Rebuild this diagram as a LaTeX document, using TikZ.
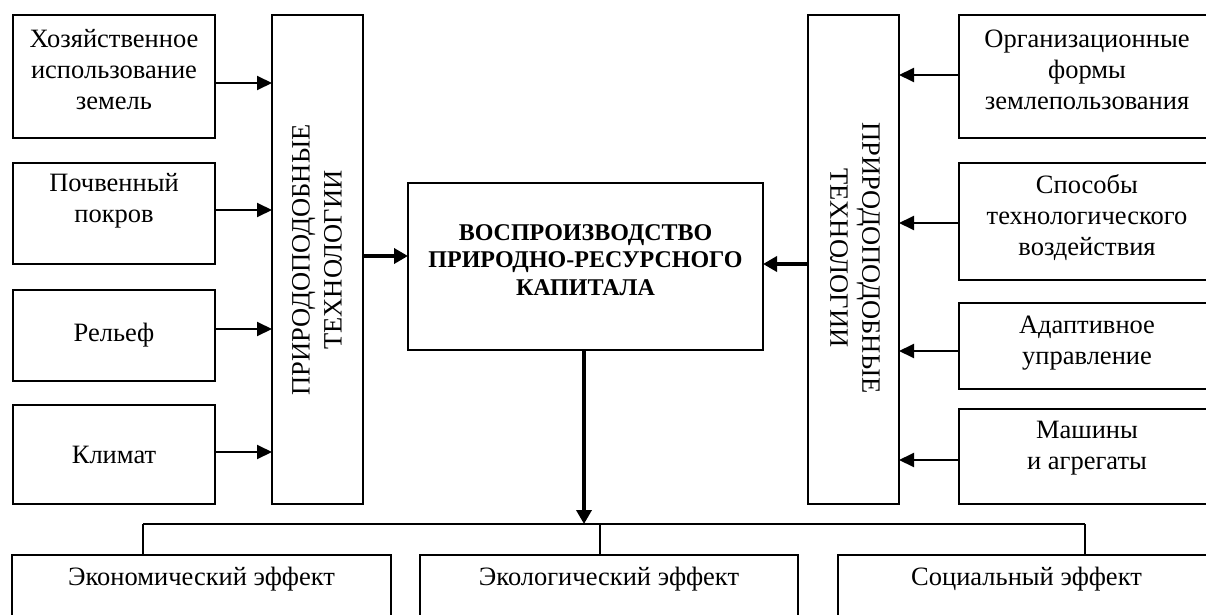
\documentclass[tikz,border=0pt]{standalone}
\usepackage{fontspec}
\setmainfont{Liberation Serif}
\usetikzlibrary{arrows.meta}
\begin{document}
\begin{tikzpicture}[x=1pt,y=-1pt,
  box/.style={draw,line width=1.5pt,inner sep=0pt,outer sep=0pt},
  txt/.style={align=center,inner sep=0pt,font=\fontsize{26.5}{31}\selectfont},
  vtxt/.style={align=center,inner sep=0pt,font=\fontsize{26.5}{32}\selectfont},
  btxt/.style={align=center,inner sep=0pt,font=\fontsize{24}{27.5}\selectfont\bfseries},
  arr/.style={line width=2pt,-{Triangle[length=15pt,width=14pt]}},
  thickarr/.style={line width=4pt,-{Triangle[length=14pt,width=15pt]}},
  conn/.style={line width=1.3pt}]
\useasboundingbox (0,0) rectangle (1206,615);
\clip (0,0) rectangle (1206,615);
\fill[white] (0,0) rectangle (1206,615);
% left input boxes
\node[box,minimum width=202pt,minimum height=123pt] (L1) at (114,76.5) {};
\node[box,minimum width=202pt,minimum height=101pt] (L2) at (114,213.5) {};
\node[box,minimum width=202pt,minimum height=91pt] (L3) at (114,335.5) {};
\node[box,minimum width=202pt,minimum height=99pt] (L4) at (114,454.5) {};
\node[txt] (L1t) at (114,70) {Хозяйственное\\использование\\земель};
\node[txt] (L2t) at (114,201) {Почвенный\\покров};
\node[txt] (L3t) at (114,335) {Рельеф};
\node[txt] (L4t) at (114,455) {Климат};
% left tall box
\node[box,minimum width=91pt,minimum height=489pt] (LT) at (317.5,259.5) {};
\node[vtxt,rotate=90] (LTt) at (317,260) {ПРИРОДОПОДОБНЫЕ\\ТЕХНОЛОГИИ};
% central box
\node[box,minimum width=355pt,minimum height=167pt] (C) at (585.5,266.5) {};
\node[btxt] (Ct) at (585.5,260) {ВОСПРОИЗВОДСТВО\\ПРИРОДНО-РЕСУРСНОГО\\КАПИТАЛА};
% right tall box
\node[box,minimum width=91pt,minimum height=489pt] (RT) at (853.5,259.5) {};
\node[vtxt,rotate=-90] (RTt) at (855,258) {ПРИРОДОПОДОБНЫЕ\\ТЕХНОЛОГИИ};
% right input boxes
\node[box,minimum width=256pt,minimum height=123pt] (R1) at (1087,76.5) {};
\node[box,minimum width=256pt,minimum height=117pt] (R2) at (1087,221.5) {};
\node[box,minimum width=256pt,minimum height=86pt] (R3) at (1087,346) {};
\node[box,minimum width=256pt,minimum height=95pt] (R4) at (1087,456.5) {};
\node[txt] (R1t) at (1087,70) {Организационные\\формы\\землепользования};
\node[txt] (R2t) at (1087,218) {Способы\\технологического\\воздействия};
\node[txt] (R3t) at (1087,343) {Адаптивное\\управление};
\node[txt] (R4t) at (1087,448) {Машины\\и агрегаты};
% bottom boxes
\node[box,minimum width=379pt,minimum height=120pt] (B1) at (201.5,615) {};
\node[box,minimum width=378pt,minimum height=120pt] (B2) at (609,615) {};
\node[box,minimum width=377pt,minimum height=120pt] (B3) at (1026.5,615) {};
\node[txt] (B1t) at (201.5,579) {Экономический эффект};
\node[txt] (B2t) at (609,579) {Экологический эффект};
\node[txt] (B3t) at (1026.5,579) {Социальный эффект};
% arrows left
\draw[arr] ([yshift=-6.5pt]L1.east) coordinate (a1) -- (a1 -| LT.west);
\draw[arr] ([yshift=3.5pt]L2.east) coordinate (a2) -- (a2 -| LT.west);
\draw[arr] ([yshift=6.5pt]L3.east) coordinate (a3) -- (a3 -| LT.west);
\draw[arr] ([yshift=2.5pt]L4.east) coordinate (a4) -- (a4 -| LT.west);
% arrows right
\draw[arr] ([yshift=1.5pt]R1.west) coordinate (b1) -- (b1 -| RT.east);
\draw[arr] ([yshift=-1.5pt]R2.west) coordinate (b2) -- (b2 -| RT.east);
\draw[arr] ([yshift=-5pt]R3.west) coordinate (b3) -- (b3 -| RT.east);
\draw[arr] ([yshift=-3.5pt]R4.west) coordinate (b4) -- (b4 -| RT.east);
% central arrows
\draw[thickarr] ([yshift=3.5pt]LT.east) coordinate (c1) -- (c1 -| C.west);
\draw[thickarr] ([yshift=-4.5pt]RT.west) coordinate (c2) -- (c2 -| C.east);
% bottom distribution
\coordinate (hub) at (584,524);
\coordinate (hl) at (143,524);
\coordinate (hr) at (1085,524);
\draw[thickarr] (C.south -| hub) -- (hub);
\draw[conn] (hl) -- (hr);
\draw[conn] (hl) -- (hl |- B1.north);
\draw[conn] (600,524) -- (B2.north -| 600,0);
\draw[conn] (hr) -- (hr |- B3.north);
\end{tikzpicture}
\end{document}
